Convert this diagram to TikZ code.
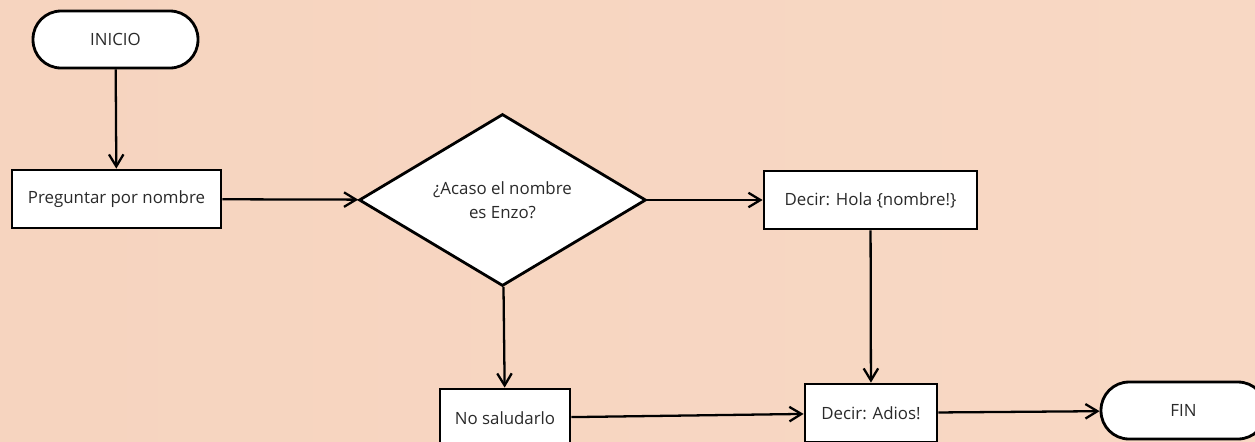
\documentclass[tikz,border=0pt]{standalone}
\usepackage{fontspec}
\setmainfont{Open Sans}
\usetikzlibrary{arrows.meta,shapes.geometric}
\definecolor{fondoizq}{HTML}{F6D4BF}
\definecolor{fondomed}{HTML}{F3C3A5}
\definecolor{fondoder}{HTML}{F8D8C4}
\definecolor{texto}{HTML}{2A2A2A}
\tikzset{
	caja/.style={draw=black, fill=white, line width=1.6pt, inner sep=0pt, text=texto,
		font=\fontsize{9.6}{13.6}\selectfont, align=center},
	terminal/.style={caja, rounded corners=5.6mm, minimum width=3.3cm, minimum height=1.14cm},
	proceso/.style={caja, minimum height=1.16cm},
	decision/.style={caja, diamond, aspect=1.67, minimum width=5.74cm, minimum height=3.44cm},
	flecha/.style={line width=1.3pt, -{Straight Barb[length=2.4mm,width=2.9mm]}}
}

\begin{document}
\begin{tikzpicture}[x=0.02cm, y=-0.02cm]
			%%%%% FONDO %%%%%
			\useasboundingbox (0,0) rectangle (1255,441);
			\shade[left color=fondoizq, middle color=fondomed, right color=fondoder] (0,0) rectangle (1255,441);
			
			%%%%% NODOS %%%%%
			\node[terminal] (inicio) at (115.5, 39.5) {INICIO};
			\node[proceso, minimum width=4.18cm] (preguntar) at (116.5, 199) {Preguntar por nombre};
			\node[decision] (enzo) at (502.5, 200) {¿Acaso el nombre\\es Enzo?};
			\node[proceso, minimum width=4.26cm] (hola) at (870.5, 200) {Decir: Hola \{nombre!\}};
			\node[proceso, minimum width=2.6cm] (nosaludar) at (505, 418) {No saludarlo};
			\node[proceso, minimum width=2.64cm] (adios) at (871, 413) {Decir: Adios!};
			\node[terminal] (fin) at (1183.5, 410.5) {FIN};
			
			%%%%% FLECHAS %%%%%
			\draw[flecha] (inicio) -- (preguntar);
			\draw[flecha] (preguntar) -- (enzo);
			\draw[flecha] (enzo) -- (hola);
			\draw[flecha] (enzo) -- (nosaludar);
			\draw[flecha] (hola) -- (adios);
			\draw[flecha] (nosaludar) -- (adios);
			\draw[flecha] (adios) -- (fin);
		\end{tikzpicture}
\end{document}
